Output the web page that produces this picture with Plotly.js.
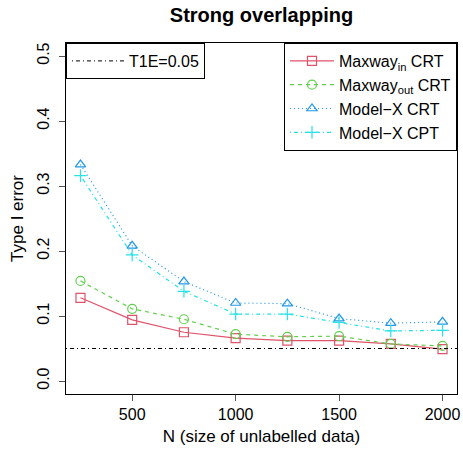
<!DOCTYPE html>
<html>
<head>
<meta charset="utf-8">
<script src="https://cdn.plot.ly/plotly-3.0.1.min.js"></script>
<style>html,body{margin:0;padding:0;background:#fff;}#chart{width:463px;height:450px;}</style>
</head>
<body>
<div id="chart"></div>
<script>
// Data
const N = [250, 500, 750, 1000, 1250, 1500, 1750, 2000];
const maxwayIn  = [0.128, 0.094, 0.075, 0.066, 0.062, 0.062, 0.057, 0.049];
const maxwayOut = [0.154, 0.111, 0.095, 0.072, 0.068, 0.069, 0.057, 0.054];
const modelXCRT = [0.333, 0.208, 0.153, 0.120, 0.119, 0.096, 0.089, 0.091];
const modelXCPT = [0.316, 0.194, 0.138, 0.103, 0.103, 0.090, 0.077, 0.078];
const T1E = 0.05;
const seriesNames = ['Maxway<sub>in</sub> CRT', 'Maxway<sub>out</sub> CRT', 'Model\u2212X CRT', 'Model\u2212X CPT'];
const yTicks = [0.0, 0.1, 0.2, 0.3, 0.4, 0.5];
const xTicks = [500, 1000, 1500, 2000];

const FONT = 'Liberation Sans, Arial, Helvetica, sans-serif';
const cols = ['#DF536B', '#61D04F', '#2297E6', '#28E2E5'];
const dashes = ['solid', '4px,4px', '1px,3px', '1px,3px,4px,3px'];
const syms = ['square-open', 'circle-open', 'triangle-up-open', 'cross-thin-open'];
const series = [maxwayIn, maxwayOut, modelXCRT, modelXCPT];

const traces = series.map((ys, i) => ({
  x: N, y: ys, type: 'scatter', mode: 'lines+markers',
  name: seriesNames[i], legend: 'legend2',
  line: {color: cols[i], width: 1.2, dash: dashes[i]},
  marker: {symbol: syms[i], size: 9, color: cols[i], line: {color: cols[i], width: 1.2}}
}));

// legend entry for the T1E reference line
traces.push({
  x: [null], y: [null], type: 'scatter', mode: 'lines', name: 'T1E=0.05',
  legend: 'legend', line: {color: '#000', width: 1, dash: '1px,3px,4px,3px'}
});

const layout = {
  width: 463, height: 450,
  margin: {l: 66, r: 6, t: 43, b: 56},
  paper_bgcolor: '#fff', plot_bgcolor: '#fff',
  font: {family: FONT, size: 16, color: '#000'},
  title: {text: '<b>Strong overlapping</b>', font: {family: FONT, size: 20, color: '#000'},
          xref: 'paper', x: 0.5, xanchor: 'center', yref: 'container', y: 0.966, yanchor: 'middle'},
  xaxis: {
    range: [180, 2070], tickvals: xTicks, ticktext: xTicks.map(String),
    ticks: 'outside', ticklen: 6, tickcolor: '#555', tickwidth: 1,
    showline: true, mirror: true, linecolor: '#000', linewidth: 1,
    showgrid: false, zeroline: false,
    tickfont: {family: FONT, size: 16, color: '#000'},
    title: {text: 'N (size of unlabelled data)', font: {family: FONT, size: 17, color: '#000'}, standoff: 7}
  },
  yaxis: {
    range: [-0.02, 0.52], tickvals: yTicks, ticktext: yTicks.map(v => v.toFixed(1)),
    tickangle: -90, ticklabelstandoff: 4,
    ticks: 'outside', ticklen: 6, tickcolor: '#555', tickwidth: 1,
    showline: true, mirror: true, linecolor: '#000', linewidth: 1,
    showgrid: false, zeroline: false,
    tickfont: {family: FONT, size: 16, color: '#000'},
    title: {text: 'Type I error', font: {family: FONT, size: 17, color: '#000'}, standoff: 6}
  },
  shapes: [{
    type: 'line', xref: 'paper', x0: 0, x1: 1, yref: 'y', y0: T1E, y1: T1E,
    line: {color: '#000', width: 1, dash: '1px,3px,4px,3px'}
  }],
  legend: {
    x: 0, y: 1, xanchor: 'left', yanchor: 'top',
    bgcolor: '#fff', bordercolor: '#000', borderwidth: 1,
    font: {family: FONT, size: 16, color: '#000'}, itemwidth: 52
  },
  legend2: {
    x: 1, y: 1, xanchor: 'right', yanchor: 'top',
    bgcolor: '#fff', bordercolor: '#000', borderwidth: 1, tracegroupgap: 0,
    font: {family: FONT, size: 16, color: '#000'}, itemwidth: 44
  },
  showlegend: true
};

Plotly.newPlot('chart', traces, layout, {displayModeBar: false, staticPlot: true});
</script>
</body>
</html>
